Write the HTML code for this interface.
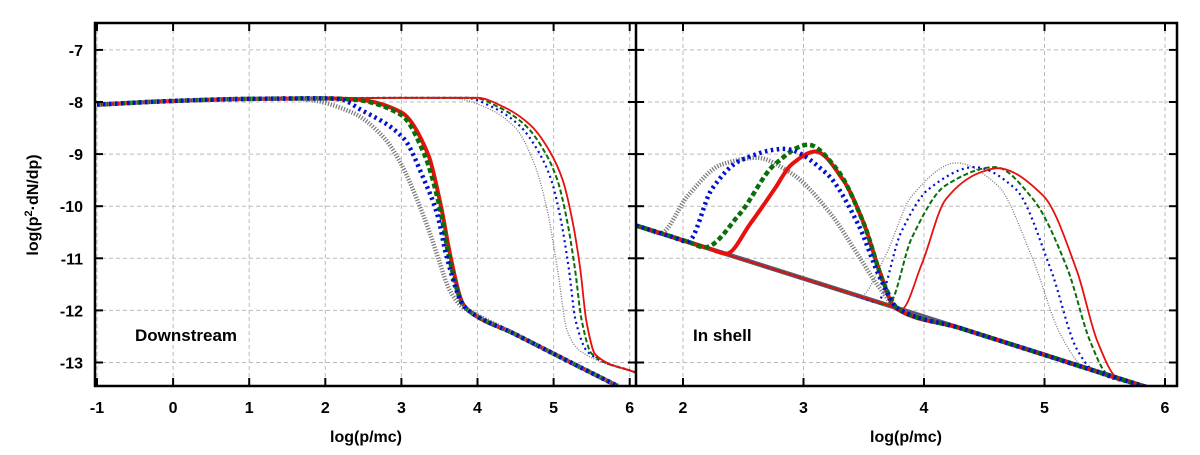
<!DOCTYPE html>
<html><head><meta charset="utf-8"><style>
html,body{margin:0;padding:0;background:#fff;}
svg text{font-family:"Liberation Sans",Arial,sans-serif;font-weight:bold;fill:#000;}
</style></head><body>
<svg id="chart" width="1200" height="450" viewBox="0 0 1200 450" xmlns="http://www.w3.org/2000/svg">
<g id="grid"></g>
<g id="curves"></g>
<g id="axes"></g>
<text transform="translate(38,205) rotate(-90)" text-anchor="middle" font-size="16">log(p<tspan dy="-6" font-size="11">2</tspan><tspan dy="6">·dN/dp)</tspan></text>
<text x="366" y="442" text-anchor="middle" font-size="16">log(p/mc)</text>
<text x="906" y="442" text-anchor="middle" font-size="16">log(p/mc)</text>
<text x="135" y="341" font-size="17">Downstream</text>
<text x="693" y="341" font-size="17">In shell</text>
</svg>
<script>
// ---- data ----
const leftXTicks = [-1,0,1,2,3,4,5,6];
const rightXTicks = [2,3,4,5,6];
const yTicks = [-7,-8,-9,-10,-11,-12,-13];
const flatX = [-1,0,1,2];
const flatY = [-8.05,-7.98,-7.94,-7.93];
// left panel, thick (low cutoff)
const lRedThickX = [2.4,3.0,3.35,3.52,3.65,3.8,3.88,4.5,5.2,5.84];
const lRedThickY = [-7.95,-8.2,-9.0,-10,-11,-11.85,-12.0,-12.46,-12.98,-13.45];
const lGreenThickX = [2.35,3.0,3.3,3.5,3.63,3.8,3.88,4.5,5.2,5.84];
const lGreenThickY = [-7.95,-8.25,-9.0,-10,-11,-11.87,-12.0,-12.46,-12.98,-13.45];
const lBlueThickX = [2.2,2.47,3.03,3.3,3.47,3.6,3.8,3.88,4.5,5.2,5.84];
const lBlueThickY = [-7.95,-8.15,-8.7,-9.5,-10.15,-11,-11.87,-12.0,-12.46,-12.98,-13.45];
const lGrayThickX = [1.7,2.35,2.78,3.0,3.2,3.37,3.5,3.63,3.8,3.88,4.5,5.2,5.84];
const lGrayThickY = [-7.95,-8.2,-8.7,-9.2,-9.85,-10.5,-11.07,-11.6,-11.93,-12.0,-12.46,-12.98,-13.45];
// left panel, thin (high cutoff)
const lRedThinX = [3,4.0,4.35,4.7,4.95,5.12,5.25,5.35,5.43,5.55,6.09];
const lRedThinY = [-7.92,-7.92,-8.1,-8.45,-8.95,-9.5,-10.3,-11.2,-12.2,-12.85,-13.2];
const lGreenThinX = [3,3.95,4.28,4.63,4.88,5.05,5.18,5.28,5.37,5.5,6.09];
const lGreenThinY = [-7.92,-7.92,-8.1,-8.45,-8.95,-9.5,-10.3,-11.2,-12.2,-12.83,-13.2];
const lBlueThinX = [3,3.85,4.2,4.55,4.8,4.97,5.1,5.2,5.29,5.45,6.09];
const lBlueThinY = [-7.92,-7.92,-8.1,-8.45,-8.95,-9.5,-10.3,-11.2,-12.2,-12.8,-13.2];
const lGrayThinX = [3,3.7,4.1,4.5,4.75,4.92,5.05,5.18,5.35,6.09];
const lGrayThinY = [-7.92,-7.93,-8.1,-8.5,-9.2,-10.1,-11.2,-12.4,-12.78,-13.2];
// right panel
const rBaseX = [1.61,5.9];
const rBaseY = [-10.37,-13.51];
const rRedThickX = [1.61,2.2,2.36,2.56,2.76,2.9,3.1,3.33,3.5,3.64,3.76,4.3,4.9,5.4,5.9];
const rRedThickY = [-10.37,-10.80,-10.91,-10.33,-9.67,-9.2,-8.95,-9.5,-10.33,-11.3,-11.95,-12.34,-12.78,-13.15,-13.51];
const rGreenThickX = [1.61,2.05,2.18,2.47,2.76,3.04,3.27,3.5,3.67,3.78,4.3,4.9,5.4,5.9];
const rGreenThickY = [-10.37,-10.69,-10.79,-10.15,-9.2,-8.82,-9.27,-10.33,-11.5,-11.96,-12.34,-12.78,-13.15,-13.51];
const rBlueThickX = [1.61,1.9,2.04,2.24,2.47,2.84,3.19,3.45,3.64,3.78,4.3,4.9,5.4,5.9];
const rBlueThickY = [-10.37,-10.58,-10.68,-9.67,-9.13,-8.9,-9.37,-10.33,-11.4,-11.96,-12.34,-12.78,-13.15,-13.51];
const rGrayThickX = [1.61,1.7,1.81,2.04,2.32,2.61,2.9,3.21,3.47,3.61,3.78,4.3,4.9,5.4,5.9];
const rGrayThickY = [-10.37,-10.44,-10.52,-9.8,-9.2,-9.07,-9.37,-10.1,-11.0,-11.5,-11.96,-12.34,-12.78,-13.15,-13.51];
const rRedThinX = [1.61,2.3,3.0,3.65,3.81,3.98,4.18,4.47,4.61,4.99,5.27,5.44,5.6,5.9];
const rRedThinY = [-10.37,-10.88,-11.39,-11.86,-11.98,-11.12,-9.87,-9.35,-9.27,-9.8,-11.25,-12.6,-13.29,-13.51];
const rGreenThinX = [1.61,2.3,3.0,3.55,3.7,3.9,4.18,4.59,4.9,5.19,5.38,5.52,5.9];
const rGreenThinY = [-10.37,-10.88,-11.39,-11.79,-11.9,-10.6,-9.6,-9.25,-9.85,-11.2,-12.6,-13.22,-13.51];
const rBlueThinX = [1.61,2.3,3.0,3.45,3.61,3.81,4.04,4.42,4.76,5.05,5.27,5.4,5.9];
const rBlueThinY = [-10.37,-10.88,-11.39,-11.72,-11.84,-10.5,-9.67,-9.25,-9.67,-11.2,-12.75,-13.14,-13.51];
const rGrayThinX = [1.61,2.3,3.0,3.3,3.47,3.67,3.9,4.27,4.61,4.9,5.13,5.32,5.9];
const rGrayThinY = [-10.37,-10.88,-11.39,-11.61,-11.73,-11.0,-9.8,-9.17,-9.6,-11.0,-12.45,-13.08,-13.51];

// ---- axes ----
const pTop=23,pBot=386,L0=95,L1=636,R1=1177;
const yS = v => 102 - (v+8)*52.1;
const xL = v => 97 + (v+1)*76.1;
const xR = v => 683 + (v-2)*120.5;
const NS="http://www.w3.org/2000/svg";
function mk(tag,attrs,parent){const e=document.createElementNS(NS,tag);for(const k in attrs)e.setAttribute(k,attrs[k]);parent.appendChild(e);return e;}
const gridG=document.getElementById('grid'),axesG=document.getElementById('axes'),curvesG=document.getElementById('curves');
const gs={stroke:'#bbb','stroke-width':1,'stroke-dasharray':'4 3'};
yTicks.forEach(t=>{
  const y=yS(t);
  const g=mk('line',Object.assign({x1:L0,x2:R1,y1:y,y2:y},gs),gridG);
  
  
  const lab=mk('text',{x:L0-12,y:y+6,'text-anchor':'end','font-size':16},axesG);
  lab.textContent=t;
  
  
  [[L0,L0+8],[L1-8,L1+8],[R1-8,R1]].forEach(([a,b])=>{const tk=mk('line',{x1:a,x2:b,y1:y,y2:y,stroke:'#000','stroke-width':2},axesG);
    
    });
});
function xticks(ticks,sc){
  ticks.forEach(t=>{const x=sc(t);
    const g=mk('line',Object.assign({x1:x,x2:x,y1:pTop,y2:pBot},gs),gridG);
    
    
    [[pTop,pTop+8],[pBot-8,pBot]].forEach(([a,b])=>{const tk=mk('line',{x1:x,x2:x,y1:a,y2:b,stroke:'#000','stroke-width':2},axesG);
      
      });
    const lab=mk('text',{x:x,y:413,'text-anchor':'middle','font-size':16},axesG);
    lab.textContent=t;
    
    
  });
}
xticks(leftXTicks,xL);xticks(rightXTicks,xR);
const fr=mk('rect',{x:L0,y:pTop,width:R1-L0,height:pBot-pTop,fill:'none',stroke:'#000','stroke-width':2.5},axesG);


const dv=mk('line',{x1:L1,x2:L1,y1:pTop,y2:pBot,stroke:'#000','stroke-width':2.5},axesG);



const defsEl=mk('defs',{},document.getElementById('chart'));
const cl=mk('clipPath',{id:'cl'},defsEl);mk('rect',{x:L0,y:pTop,width:L1-L0,height:pBot-pTop},cl);
const cr=mk('clipPath',{id:'cr'},defsEl);mk('rect',{x:L1,y:pTop,width:R1-L1,height:pBot-pTop},cr);

// monotone cubic (Fritsch-Carlson) in pixel space
function pathD(pts){
  const n=pts.length;
  if(n<2) return '';
  const d=[],h=[];
  for(let i=0;i<n-1;i++){h[i]=pts[i+1][0]-pts[i][0];d[i]=(pts[i+1][1]-pts[i][1])/h[i];}
  const m=new Array(n);
  m[0]=d[0];m[n-1]=d[n-2];
  for(let i=1;i<n-1;i++){
    if(d[i-1]*d[i]<=0) m[i]=0;
    else{const w1=2*h[i]+h[i-1],w2=h[i]+2*h[i-1];m[i]=(w1+w2)/(w1/d[i-1]+w2/d[i]);}
  }
  let s='M'+pts[0][0].toFixed(2)+','+pts[0][1].toFixed(2);
  for(let i=0;i<n-1;i++){
    const x0=pts[i][0],y0=pts[i][1],x1=pts[i+1][0],y1=pts[i+1][1],hh=h[i]/3;
    s+=' C'+(x0+hh).toFixed(2)+','+(y0+m[i]*hh).toFixed(2)+' '+(x1-hh).toFixed(2)+','+(y1-m[i+1]*hh).toFixed(2)+' '+x1.toFixed(2)+','+y1.toFixed(2);
  }
  return s;
}
const styles={
  redThick:{stroke:'#e8100c','stroke-width':4},
  greenThick:{stroke:'#0a6e0a','stroke-width':4.5,'stroke-dasharray':'5 3'},
  blueThick:{stroke:'#0010d0','stroke-width':4.5,'stroke-dasharray':'2.5 3.5'},
  grayThick:{stroke:'#777','stroke-width':4.5,'stroke-dasharray':'1.2 1.6'},
  redThin:{stroke:'#e8100c','stroke-width':1.8},
  greenThin:{stroke:'#0a6e0a','stroke-width':2,'stroke-dasharray':'5 2.5'},
  blueThin:{stroke:'#0010d0','stroke-width':2.2,'stroke-dasharray':'2 3.5'},
  grayThin:{stroke:'#777','stroke-width':1.3,'stroke-dasharray':'1 1.5'},
  base:{stroke:'#5a5a70','stroke-width':4.5}
};
function draw(xs,ys,sc,st,clip,name,prefix){
  let X=xs,Y=ys;
  if(prefix){X=flatX.concat(xs);Y=flatY.concat(ys);}
  const pts=X.map((x,i)=>[sc(x),yS(Y[i])]);
  const p=mk('path',Object.assign({d:pathD(pts),fill:'none','clip-path':'url(#'+clip+')','stroke-linejoin':'round'},styles[st]),curvesG);
  
  
}
draw(lGrayThinX,lGrayThinY,xL,'grayThin','cl','left-gray-thin',true);
draw(lBlueThinX,lBlueThinY,xL,'blueThin','cl','left-blue-thin',true);
draw(lGreenThinX,lGreenThinY,xL,'greenThin','cl','left-green-thin',true);
draw(lRedThinX,lRedThinY,xL,'redThin','cl','left-red-thin',true);
draw(lRedThickX,lRedThickY,xL,'redThick','cl','left-red-thick',true);
draw(lGreenThickX,lGreenThickY,xL,'greenThick','cl','left-green-thick',true);
draw(lGrayThickX,lGrayThickY,xL,'grayThick','cl','left-gray-thick',true);
draw(lBlueThickX,lBlueThickY,xL,'blueThick','cl','left-blue-thick',true);
draw(rBaseX,rBaseY,xR,'base','cr','right-base-line',false);
draw(rGrayThinX,rGrayThinY,xR,'grayThin','cr','right-gray-thin',false);
draw(rBlueThinX,rBlueThinY,xR,'blueThin','cr','right-blue-thin',false);
draw(rGreenThinX,rGreenThinY,xR,'greenThin','cr','right-green-thin',false);
draw(rRedThinX,rRedThinY,xR,'redThin','cr','right-red-thin',false);
draw(rGrayThickX,rGrayThickY,xR,'grayThick','cr','right-gray-thick',false);
draw(rRedThickX,rRedThickY,xR,'redThick','cr','right-red-thick',false);
draw(rGreenThickX,rGreenThickY,xR,'greenThick','cr','right-green-thick',false);
draw(rBlueThickX,rBlueThickY,xR,'blueThick','cr','right-blue-thick',false);
</script>
</body></html>
